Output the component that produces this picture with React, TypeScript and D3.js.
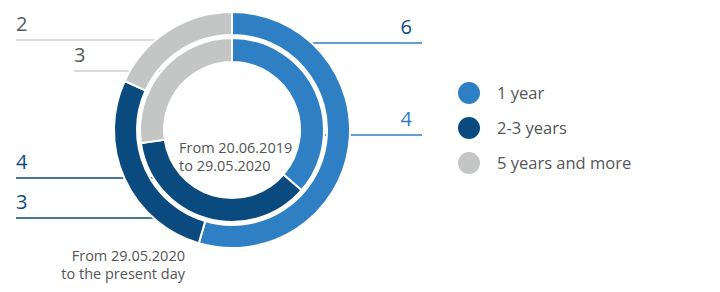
import React from "react";
import * as d3 from "d3";

const categories = ["1 year", "2-3 years", "5 years and more"];
const colors = ["#2f7fc4", "#0b4a7e", "#c4c5c5"];
const outerValues = [6, 3, 2]; // From 29.05.2020 to the present day
const innerValues = [4, 4, 3]; // From 20.06.2019 to 29.05.2020
const outerTitle = ["From 29.05.2020", "to the present day"];
const innerTitle = ["From 20.06.2019", "to 29.05.2020"];

// callout labels: value, category index, ring, side
const callouts = [
  { value: outerValues[0], cat: 0, ring: "outer", side: "right", textColor: "#0b4a7e", lineColor: "#2f7fc4", y: 43, x0: 300, x1: 422, tx: 412 },
  { value: innerValues[0], cat: 0, ring: "inner", side: "right", textColor: "#2f7fc4", lineColor: "#2f7fc4", y: 135, x0: 320, x1: 422, tx: 412 },
  { value: outerValues[2], cat: 2, ring: "outer", side: "left", textColor: "#5a5a5a", lineColor: "#cfcfcf", y: 40, x0: 16, x1: 165, tx: 16 },
  { value: innerValues[2], cat: 2, ring: "inner", side: "left", textColor: "#5a5a5a", lineColor: "#cfcfcf", y: 71, x0: 74, x1: 170, tx: 74 },
  { value: innerValues[1], cat: 1, ring: "inner", side: "left", textColor: "#0b4a7e", lineColor: "#0b4a7e", y: 178, x0: 16, x1: 160, tx: 16 },
  { value: outerValues[1], cat: 1, ring: "outer", side: "left", textColor: "#0b4a7e", lineColor: "#0b4a7e", y: 218, x0: 16, x1: 160, tx: 16 },
];

const FONT = "'Open Sans', 'Noto Sans', sans-serif";

export default function App() {
  const cx = 232;
  const cy = 130;
  const pie = d3.pie<number>().sort(null).value((d) => d);
  const outerArc = d3.arc<d3.PieArcDatum<number>>().innerRadius(95).outerRadius(118);
  const innerArc = d3.arc<d3.PieArcDatum<number>>().innerRadius(68).outerRadius(92);
  const outerArcs = pie(outerValues);
  const innerArcs = pie(innerValues);
  const legendY = d3.scalePoint<string>().domain(categories).range([93, 163]);

  return (
    <svg
      width={720}
      height={292}
      style={{ position: "absolute", left: 0, top: 0, background: "#fff" }}
      fontFamily={FONT}
    >
      {callouts.map((c, i) => (
        <g key={i}>
          <line x1={c.x0} x2={c.x1} y1={c.y} y2={c.y} stroke={c.lineColor} strokeWidth={1.3} />
          <text
            x={c.tx}
            y={c.y - 9}
            fontSize={20}
            fill={c.textColor}
            textAnchor={c.side === "right" ? "end" : "start"}
          >
            {c.value}
          </text>
        </g>
      ))}
      <g transform={`translate(${cx},${cy})`}>
        {outerArcs.map((a, i) => (
          <path key={"o" + i} d={outerArc(a) || ""} fill={colors[i]} stroke="#fff" strokeWidth={2} />
        ))}
        {innerArcs.map((a, i) => (
          <path key={"i" + i} d={innerArc(a) || ""} fill={colors[i]} stroke="#fff" strokeWidth={2} />
        ))}
      </g>
      <text x={179} y={153} fontSize={14.5} fill="#555">
        <tspan x={179}>{innerTitle[0]}</tspan>
        <tspan x={179} dy={18}>{innerTitle[1]}</tspan>
      </text>
      <text x={185} y={261} fontSize={14.5} fill="#555" textAnchor="end">
        <tspan x={185}>{outerTitle[0]}</tspan>
        <tspan x={185} dy={17.5}>{outerTitle[1]}</tspan>
      </text>
      {categories.map((c, i) => (
        <g key={c} transform={`translate(0,${legendY(c)})`}>
          <circle cx={469} cy={0} r={11} fill={colors[i]} />
          <text x={497} y={5.5} fontSize={16.5} fill="#555">
            {c}
          </text>
        </g>
      ))}
    </svg>
  );
}
